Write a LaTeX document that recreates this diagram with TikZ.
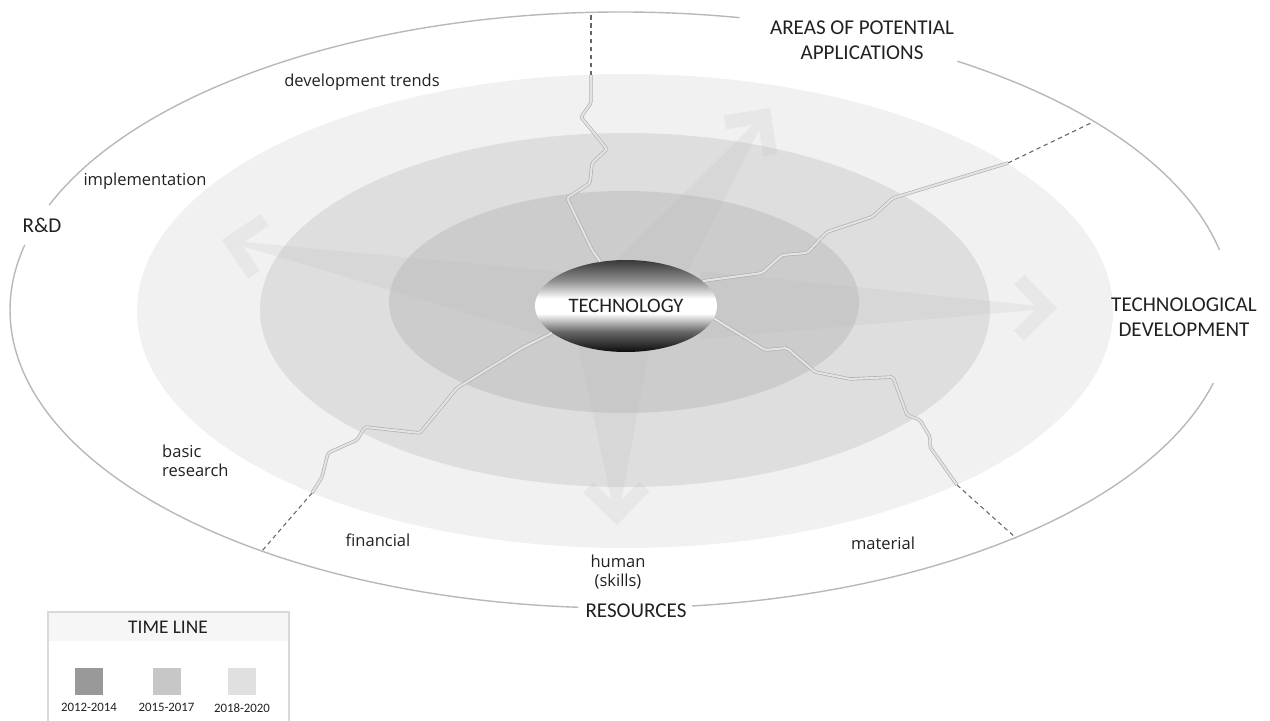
\documentclass[tikz,border=0pt]{standalone}
\usepackage{fontspec}
\setmainfont{Open Sans}
\newfontfamily\capsfont{Carlito}
\usetikzlibrary{shapes.geometric,positioning}

\definecolor{ringA}{gray}{0.80}
\definecolor{ringB}{gray}{0.87}
\definecolor{ringC}{gray}{0.945}
\definecolor{rimgray}{gray}{0.72}
\definecolor{keyA}{gray}{0.60}
\definecolor{keyB}{gray}{0.78}
\definecolor{keyC}{gray}{0.88}
\definecolor{inkgray}{gray}{0.13}

\pgfdeclareverticalshading{techshade}{100bp}{color(0bp)=(black!95); color(25bp)=(black!95); color(36bp)=(black!60); color(46bp)=(white); color(54bp)=(white); color(64bp)=(black!45); color(75bp)=(black!78); color(100bp)=(black!78)}

\tikzset{
  rim/.style={draw=rimgray, line width=0.8pt},
  crackline/.style={draw=gray!65, line width=0.35pt, double=gray!22, double distance=1.2pt, rounded corners=1pt},
  dashline/.style={draw=black!60, dash pattern=on 2.5pt off 2pt, line width=0.6pt},
  flow/.style={fill=gray!55, opacity=0.17},
  techbox/.style={ellipse, minimum width=3.64cm, minimum height=1.84cm, inner sep=0pt, shading=techshade, text=inkgray, font=\capsfont\fontsize{11.7}{14}\selectfont},
  biglabel/.style={text=inkgray, align=center, font=\capsfont\fontsize{12}{14}\selectfont},
  lowlabel/.style={text=inkgray, align=center, font=\fontsize{9.4}{11}\selectfont},
  swatch/.style={minimum width=0.56cm, minimum height=0.54cm, inner sep=0pt},
  yearlabel/.style={text=inkgray, inner sep=0pt, font=\capsfont\fontsize{7.3}{8}\selectfont},
}

\newcommand{\flowarrow}[4]{%
  \begin{scope}[shift={(#1)}, rotate=#2]
    \fill[flow] (0,0) -- (-#3,#4) -- (-#3,-#4) -- cycle
      (0,0) -- (-33,33) -- (-43,23) -- (-20,0) -- (-43,-23) -- (-33,-33) -- cycle;
  \end{scope}}

\begin{document}
\begin{tikzpicture}[x=0.02cm, y=-0.02cm]
\useasboundingbox (0,0) rectangle (1270,720);

\fill[ringC] (625,311) ellipse [x radius=488, y radius=237];
\fill[ringB] (625,310) ellipse [x radius=365, y radius=177];
\fill[ringA] (624,302) ellipse [x radius=235, y radius=111];

\flowarrow{770,108}{54}{245}{40}
\flowarrow{222,240}{169}{344}{34}
\flowarrow{1057,308}{-0.5}{357}{34}
\flowarrow{617,525}{-89}{220}{44}

\node[techbox] (tech) at (626,306) {TECHNOLOGY};

\coordinate (topin) at (591,75);
\coordinate (toprim) at (591,13);
\coordinate (uprin) at (1008,163);
\coordinate (uprrim) at (1093,122);
\coordinate (lowlin) at (312,493);
\coordinate (lowlrim) at (262,551);
\coordinate (lowrin) at (957,485);
\coordinate (lowrrim) at (1016,538);

\draw[crackline] (tech.120) -- (592,250) -- (567,198) -- (590,183) -- (592,163) -- (607,149) -- (581,117) -- (591,103) -- (topin);
\draw[crackline] (tech.18) -- (762,273) -- (782,255) -- (807,253) -- (827,232) -- (872,217) -- (893,198) -- (uprin);
\draw[crackline] (tech.200) -- (522,348) -- (457,388) -- (420,433) -- (365,427) -- (357,440) -- (328,453) -- (322,477) -- (lowlin);
\draw[crackline] (tech.-8) -- (765,350) -- (787,348) -- (815,372) -- (850,379) -- (893,377) -- (907,415) -- (920,420) -- (930,437) -- (930,447) -- (lowrin);

\draw[dashline] (topin) -- (toprim);
\draw[dashline] (uprin) -- (uprrim);
\draw[dashline] (lowlin) -- (lowlrim);
\draw[dashline] (lowrin) -- (lowrrim);

\draw[rim] (621,310) ++(14.2:611 and 298) arc [start angle=14.2, end angle=83.3, x radius=611, y radius=298];
\draw[rim] (621,310) ++(94:611 and 298) arc [start angle=94, end angle=192.6, x radius=611, y radius=298];
\draw[rim] (621,310) ++(200.6:611 and 298) arc [start angle=200.6, end angle=281.2, x radius=611, y radius=298];
\draw[rim] (621,310) ++(303.4:611 and 298) arc [start angle=303.4, end angle=348.4, x radius=611, y radius=298];

\node[biglabel] (apps) at (862,40) {AREAS OF POTENTIAL\\APPLICATIONS};
\node[biglabel] (rnd) at (42,225) {R\&D};
\node[biglabel] (techdev) at (1184,317) {TECHNOLOGICAL\\DEVELOPMENT};
\node[biglabel] (resources) at (636,611) {RESOURCES};

\node[lowlabel] (trends) at (362,82) {development trends};
\node[lowlabel] (implement) at (145,181) {implementation};
\node[lowlabel, anchor=west, align=left] (basic) at (156,461) {basic\\research};
\node[lowlabel] (financial) at (378,540) {financial};
\node[lowlabel] (human) at (618,572) {human\\(skills)};
\node[lowlabel] (material) at (883,543) {material};

\fill[gray!7] (48,612) rectangle (289,641);
\draw[gray!30, line width=0.6pt] (48,722) -- (48,612) -- (289,612) -- (289,722);
\node[biglabel, font=\capsfont\fontsize{11}{13}\selectfont] (timeline) at (168,627) {TIME LINE};
\node[swatch, fill=keyA] (swatchA) at (89,681.5) {};
\node[swatch, fill=keyB] (swatchB) at (166.5,681.5) {};
\node[swatch, fill=keyC] (swatchC) at (242,681.5) {};
\node[yearlabel, below=4.5pt of swatchA] (yearA) {2012-2014};
\node[yearlabel, below=4.5pt of swatchB] (yearB) {2015-2017};
\node[yearlabel, below=4.5pt of swatchC] (yearC) {2018-2020};
\end{tikzpicture}
\end{document}
